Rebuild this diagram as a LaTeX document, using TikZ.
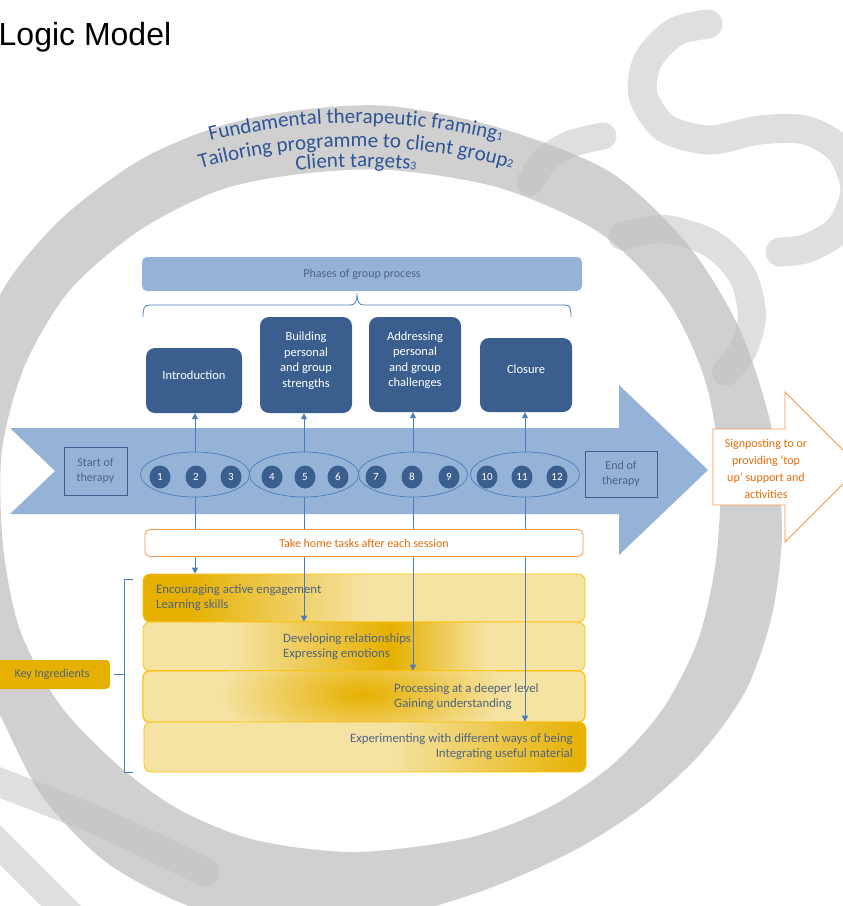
\documentclass[tikz,border=0pt]{standalone}
\usepackage{fontspec}
\setmainfont{Carlito}
\newfontfamily\arialfont{Liberation Sans}
\usetikzlibrary{shapes.geometric, arrows.meta, decorations.text}

\definecolor{ringgray}{HTML}{D0D0D0}
\definecolor{swirlgray}{HTML}{C0C0C0}
\definecolor{curveblue}{HTML}{2F5597}
\definecolor{phaseblue}{HTML}{3A5F8F}
\definecolor{lightblue}{HTML}{95B3D7}
\definecolor{lineblue}{HTML}{4A7EBB}
\definecolor{slate}{HTML}{4F6382}
\definecolor{signorange}{HTML}{F79646}
\definecolor{orangetext}{HTML}{E36C09}
\definecolor{gold}{HTML}{E6B000}
\definecolor{cream}{HTML}{F5E3A4}
\definecolor{barline}{HTML}{FFC000}

% shadings for the ingredient bars (25bp..75bp covers the bar)
\pgfdeclarehorizontalshading{barA}{100bp}{color(0bp)=(gold); color(30bp)=(gold); color(50bp)=(cream); color(100bp)=(cream)}
\pgfdeclarehorizontalshading{barB}{100bp}{color(0bp)=(cream); color(35bp)=(cream); color(53bp)=(gold); color(64bp)=(cream); color(100bp)=(cream)}
\pgfdeclarehorizontalshading{barD}{100bp}{color(0bp)=(cream); color(53bp)=(cream); color(75bp)=(gold); color(100bp)=(gold)}

\newcommand\curvefont{\fontsize{21}{25}\selectfont}
\newcommand\subfont{\fontsize{12}{14}\selectfont}

\tikzset{
  swirl/.style={draw=swirlgray, draw opacity=0.5, line width=29pt, line cap=round},
  curved/.style={decorate, decoration={text along path, text align=center, text color=curveblue, text={#1}}},
  phase/.style={fill=phaseblue, rounded corners=9pt, inner sep=0pt, minimum width=92pt},
  phasetext/.style={text=white, align=center, font=\fontsize{12.5}{15.5}\selectfont, inner sep=0pt},
  group/.style={ellipse, draw=lineblue, line width=0.7pt, minimum width=109pt, minimum height=45pt, inner sep=0pt},
  session/.style={ellipse, fill=phaseblue, text=white, minimum width=21pt, minimum height=23pt, inner sep=0pt, font=\fontsize{11}{13}\selectfont},
  therapybox/.style={draw=phaseblue, line width=0.8pt, text=slate, align=center, font=\fontsize{12}{14.5}\selectfont, inner sep=0pt},
  bar/.style={draw=barline, line width=0.7pt, rounded corners=7pt, inner sep=0pt, minimum width=442pt},
  bartext/.style={text=slate, font=\fontsize{12.8}{15}\selectfont, inner sep=0pt},
  link/.style={draw=lineblue, line width=0.8pt, -{Triangle[length=6pt,width=6pt]}},
}

\begin{document}
\begin{tikzpicture}[x=1pt, y=1pt]
  \clip (0,0) rectangle (843,-906);

  % Grey ring behind everything
  \fill[ringgray, even odd rule]
    plot[smooth cycle] coordinates {(390,-106) (500,-128) (610,-172) (688,-245) (740,-330) (772,-430) (782,-530)
      (772,-615) (746,-690) (702,-752) (645,-805) (575,-850) (490,-888) (400,-915) (300,-926) (200,-910) (110,-865)
      (45,-800) (5,-725) (-30,-640) (-45,-520) (-35,-400) (0,-295) (60,-220) (140,-160) (220,-126) (300,-110)}
    plot[smooth cycle] coordinates {(390,-170) (500,-188) (600,-233) (667,-300) (705,-380) (720,-470) (716,-560)
      (698,-640) (662,-710) (612,-765) (548,-808) (468,-838) (355,-852) (255,-840) (180,-810) (120,-767) (60,-705)
      (20,-630) (3,-545) (2,-450) (25,-365) (70,-290) (140,-230) (220,-190) (300,-174)};

  % Lighter swirls
  \draw[swirl] plot[smooth] coordinates {(708,-24) (675,-32) (648,-60) (643,-95) (665,-128) (710,-140) (760,-130) (805,-130) (840,-150) (855,-190) (840,-228) (808,-248) (780,-252)};
  \draw[swirl, line width=27pt] plot[smooth] coordinates {(603,-136) (570,-144) (545,-160) (530,-182)};
  \draw[swirl, line width=28pt] plot[smooth] coordinates {(622,-236) (665,-229) (712,-244) (742,-275) (752,-315) (743,-350) (726,-372)};
  \draw[swirl] plot[smooth] coordinates {(-20,-775) (100,-822) (205,-872)};
  \draw[swirl, line width=28pt] (-30,-815) -- (75,-920);

  % Curved framing text
  \coordinate (arcc) at (356,-720);
  \path[curved={|\curvefont|Fundamental therapeutic framing|\subfont|1}]
    (arcc) ++(110:597) arc[start angle=110, end angle=70, radius=597];
  \path[curved={|\curvefont|Tailoring programme to client group|\subfont|2}]
    (arcc) ++(112:573) arc[start angle=112, end angle=68, radius=573];
  \path[curved={|\curvefont|Client targets|\subfont|3}]
    (arcc) ++(100:553) arc[start angle=100, end angle=80, radius=553];

  % Title
  \node[anchor=base west, inner sep=0pt, font=\arialfont\fontsize{32}{38}\selectfont] (title) at (-1.5,-45) {Logic Model};

  % Phases header and its brace
  \node[fill=lightblue, rounded corners=5pt, minimum width=440pt, minimum height=34pt, inner sep=0pt,
        text=slate, font=\fontsize{12}{14}\selectfont] (phases) at (362,-274) {Phases of group process};
  \draw[lineblue, line width=0.8pt] (143,-317) .. controls (143,-308) and (144,-305) .. (150,-305) -- (350,-305)
    .. controls (355,-305) and (357,-302) .. (357,-293) .. controls (357,-302) and (359,-305) .. (364,-305)
    -- (565,-305) .. controls (570,-305) and (571,-308) .. (571,-317);

  % Phase boxes
  \node[phase, minimum width=96pt, minimum height=65pt] (intro) at (194,-380.5) {};
  \node[phasetext] (introtext) at ([yshift=5pt]intro.center) {Introduction};
  \node[phase, minimum height=96pt] (build) at (306,-365) {};
  \node[phasetext] (buildtext) at ([yshift=4.5pt]build.center) {Building\\personal\\and group\\strengths};
  \node[phase, minimum height=95pt] (address) at (415,-364.5) {};
  \node[phasetext] (addresstext) at ([yshift=4.5pt]address.center) {Addressing\\personal\\and group\\challenges};
  \node[phase, minimum height=74pt] (closure) at (526,-375) {};
  \node[phasetext] (closuretext) at ([yshift=6pt]closure.center) {Closure};

  % Big timeline arrow
  \fill[lightblue] (10,-428) -- (619,-428) -- (619,-385) -- (708,-470) -- (619,-555) -- (619,-514) -- (10,-514) -- (55,-471) -- cycle;

  \node[therapybox, minimum width=63pt, minimum height=48pt] (start) at (95.5,-471) {Start of\\therapy};
  \node[therapybox, minimum width=72pt, minimum height=46pt] (end) at (621,-474) {End of\\therapy};

  % Session groups and sessions
  \foreach \g/\x in {1/195,2/304,3/413,4/525}
    \node[group] (g\g) at (\x,-474.5) {};
  \foreach \n/\x in {1/160,2/196,3/231,4/272,5/305,6/338,7/376,8/412,9/449,10/487,11/522,12/557}
    \node[session] (s\n) at (\x,-477) {\n};

  % Key ingredient bars
  \node[bar, shade, shading=barA, minimum height=48pt] (bar1) at (364,-598) {};
  \node[bar, shade, shading=barB, minimum height=49pt] (bar2) at (364,-646.5) {};
  \node[bar, fill=cream, minimum height=51pt] (bar3) at (364,-696.5) {};
  \begin{scope}
    \clip[rounded corners=7pt] (bar3.south west) rectangle (bar3.north east);
    \shade[inner color=gold, outer color=cream] (363,-694) ellipse (145 and 58);
  \end{scope}
  \draw[barline, line width=0.7pt, rounded corners=7pt] (bar3.south west) rectangle (bar3.north east);
  \node[bar, shade, shading=barD, minimum height=50pt] (bar4) at (365,-747) {};

  \node[bartext, anchor=west, align=left] (ing1) at (156,-598) {Encouraging active engagement\\Learning skills};
  \node[bartext, anchor=west, align=left] (ing2) at (283,-646.5) {Developing relationships\\Expressing emotions};
  \node[bartext, anchor=west, align=left] (ing3) at (394,-696.5) {Processing at a deeper level\\Gaining understanding};
  \node[bartext, anchor=east, align=right] (ing4) at (573,-747) {Experimenting with different ways of being\\Integrating useful material};

  % Arrows up to the phases and down to the ingredients
  \foreach \g/\p in {1/intro,2/build,3/address,4/closure}
    \draw[link] (g\g.north) -- (g\g.north |- \p.south);
  \foreach \g/\b in {1/bar1,2/bar2,3/bar3,4/bar4}
    \draw[link] (g\g.south) -- (g\g.south |- \b.north);

  % Take home tasks
  \node[draw=signorange, line width=0.8pt, fill=white, rounded corners=5pt, minimum width=438pt, minimum height=27pt, inner sep=0pt,
        text=orangetext, font=\fontsize{12}{14}\selectfont] (home) at (364,-543) {Take home tasks after each session};

  % Signposting arrow
  \filldraw[draw=signorange, fill=white, line width=0.8pt] (713,-429) -- (785,-429) -- (785,-392) -- (860,-467)
    -- (785,-542) -- (785,-505) -- (713,-505) -- cycle;
  \node[text=orangetext, align=center, font=\fontsize{12}{17}\selectfont, inner sep=0pt] (signpost) at (766,-469)
    {Signposting to or\\providing ‘top\\up’ support and\\activities};

  % Key ingredients label and bracket
  \node[fill=gold, rounded corners=4pt, minimum width=116pt, minimum height=29pt, inner sep=0pt,
        text=slate, font=\fontsize{12}{14}\selectfont] (key) at (52,-674.5) {Key Ingredients};
  \draw[lineblue, line width=0.8pt] ([xshift=4pt]key.east) -- (124,-674.5);
  \draw[lineblue, line width=0.8pt] (133,-579) -- (124,-579) -- (124,-772) -- (133,-772);
\end{tikzpicture}
\end{document}
